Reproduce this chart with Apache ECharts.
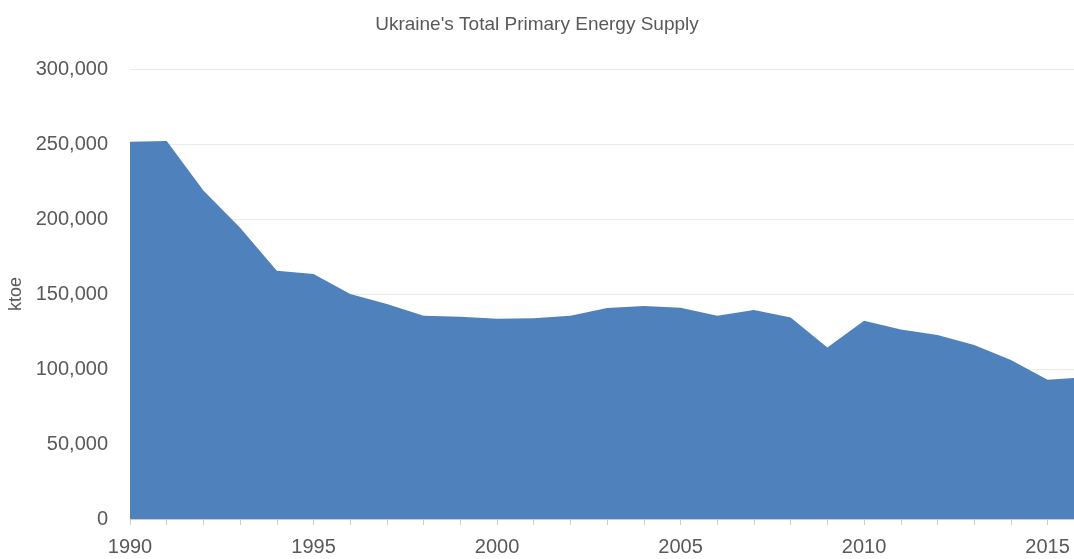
<!DOCTYPE html>
<html>
<head>
<meta charset="utf-8">
<script src="https://cdn.jsdelivr.net/npm/echarts@6/dist/echarts.min.js"></script>
<style>
  html, body { margin: 0; padding: 0; background: #fff; }
  #chart { width: 1074px; height: 559px; }
</style>
</head>
<body>
<div id="chart"></div>
<script>
  // years and total primary energy supply (ktoe)
  const years = [1990, 1991, 1992, 1993, 1994, 1995, 1996, 1997, 1998, 1999,
    2000, 2001, 2002, 2003, 2004, 2005, 2006, 2007, 2008, 2009,
    2010, 2011, 2012, 2013, 2014, 2015, 2016]
  const tpes = [251500, 252000, 219000, 194200, 165500, 163300, 150000, 143300, 135500, 134900,
    133500, 133800, 135500, 140700, 142000, 140900, 135500, 139300, 134400, 114400,
    132200, 126400, 122700, 116000, 106000, 92900, 94400]
  const labelYears = [1990, 1995, 2000, 2005, 2010, 2015]
  const tickYears = years.slice(0, 26)

  const fontFamily = "'Liberation Sans Narrow', 'Arial Narrow', 'Liberation Sans', sans-serif"
  const textColor = '#595959'

  const chart = echarts.init(document.getElementById('chart'))
  chart.setOption({
    animation: false,
    title: {
      text: "Ukraine's Total Primary Energy Supply",
      left: 'center',
      top: 10,
      textStyle: {
        fontFamily: fontFamily,
        fontWeight: 400,
        fontSize: 19,
        color: textColor
      }
    },
    grid: {
      left: 130,
      right: 0,
      top: 69,
      bottom: 40,
      outerBoundsMode: 'none'
    },
    xAxis: {
      type: 'value',
      min: 1990,
      max: 2015.72,
      interval: 1,
      axisLine: {
        lineStyle: { color: '#cccccc', width: 1 }
      },
      axisTick: {
        customValues: tickYears,
        length: 6,
        lineStyle: { color: '#cccccc' }
      },
      axisLabel: {
        customValues: labelYears,
        margin: 18,
        fontFamily: fontFamily,
        fontSize: 20,
        color: textColor,
        formatter: v => String(v)
      },
      splitLine: { show: false }
    },
    yAxis: {
      type: 'value',
      min: 0,
      max: 300000,
      interval: 50000,
      name: 'ktoe',
      nameLocation: 'middle',
      nameGap: 103,
      nameTextStyle: {
        fontFamily: fontFamily,
        fontSize: 18,
        color: textColor
      },
      axisLine: { show: false },
      axisTick: { show: false },
      axisLabel: {
        margin: 22,
        fontFamily: fontFamily,
        fontSize: 20,
        color: textColor,
        formatter: v => v.toLocaleString('en-US')
      },
      splitLine: {
        lineStyle: { color: '#ecece4', width: 1 }
      }
    },
    series: [{
      type: 'line',
      data: years.map((y, i) => [y, tpes[i]]),
      symbol: 'none',
      clip: true,
      lineStyle: { width: 0 },
      areaStyle: { color: '#4f81bd', opacity: 1 }
    }]
  })
</script>
</body>
</html>
